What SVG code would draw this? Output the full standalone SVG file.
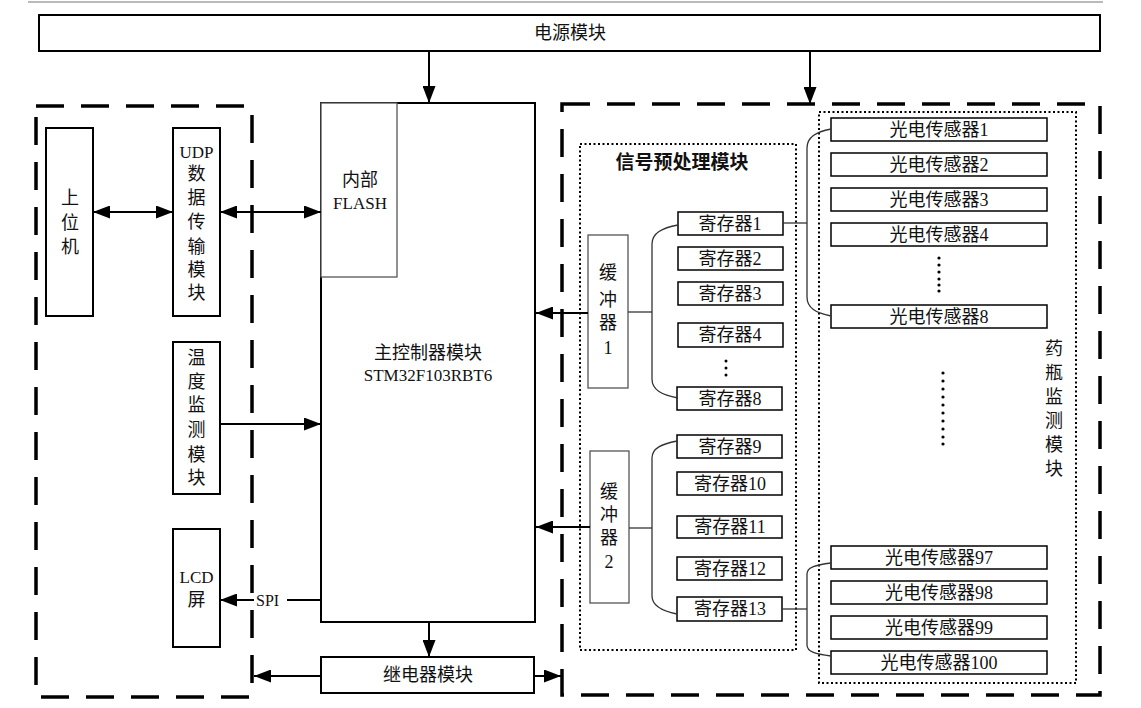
<svg xmlns="http://www.w3.org/2000/svg" width="1141" height="708" viewBox="0 0 1141 708">
<style>
text{font-family:"Liberation Serif","Noto Sans CJK SC",serif;fill:#111;font-size:18px}
.c{text-anchor:middle}
.blk{fill:#fff;stroke:#000;stroke-width:2}
.thin{fill:#fff;stroke:#555;stroke-width:1.3}
.reg{fill:#fff;stroke:#000;stroke-width:1.5}
.dash{fill:none;stroke:#000;stroke-width:3.5;stroke-dasharray:28 17}
.dot{fill:none;stroke:#000;stroke-width:2;stroke-dasharray:2 2.5}
.ln{fill:none;stroke:#000;stroke-width:2}
.br{fill:none;stroke:#333;stroke-width:1.3}
.d{fill:#000}
</style>
<defs>
<marker id="ah" viewBox="0 0 17 13" refX="17" refY="6.5" markerWidth="17" markerHeight="13" markerUnits="userSpaceOnUse" orient="auto-start-reverse">
<path d="M0,0 L17,6.5 L0,13 z" fill="#000"/>
</marker>
</defs>
<line x1="28" y1="2" x2="1103" y2="2" stroke="#777" stroke-width="1"/>

<g id="frames">
<rect class="dash" x="36" y="106" width="216" height="591"/>
<rect class="dash" x="562" y="104" width="538" height="591"/>
<rect class="dot" x="580" y="144" width="216" height="506"/>
<rect class="dot" x="819" y="112" width="257" height="571"/>
</g>

<g id="power"><rect class="blk" x="39" y="15" width="1061" height="36"/><text class="c" x="570" y="39">电源模块</text></g>

<g id="host"><rect class="blk" x="46" y="128" width="47" height="188"/>
<text class="c"><tspan x="70" y="204">上</tspan><tspan x="70" y="229">位</tspan><tspan x="70" y="253">机</tspan></text></g>

<g id="udp"><rect class="blk" x="173" y="128" width="47" height="188"/>
<text class="c" style="font-size:17px"><tspan x="196.5" y="158">UDP</tspan></text>
<text class="c"><tspan x="196.5" y="180">数</tspan><tspan x="196.5" y="204">据</tspan><tspan x="196.5" y="228">传</tspan><tspan x="196.5" y="253">输</tspan><tspan x="196.5" y="276">模</tspan><tspan x="196.5" y="299">块</tspan></text></g>

<g id="temp"><rect class="blk" x="173" y="342" width="47" height="152"/>
<text class="c"><tspan x="196.5" y="364">温</tspan><tspan x="196.5" y="388">度</tspan><tspan x="196.5" y="411">监</tspan><tspan x="196.5" y="436">测</tspan><tspan x="196.5" y="461">模</tspan><tspan x="196.5" y="484">块</tspan></text></g>

<g id="lcd"><rect class="blk" x="173" y="529" width="47" height="118"/>
<text class="c" style="font-size:17px"><tspan x="196.5" y="583">LCD</tspan></text>
<text class="c"><tspan x="196.5" y="606">屏</tspan></text></g>

<g id="mcu"><rect class="blk" x="321" y="103" width="214" height="519"/>
<rect class="thin" x="321" y="103" width="76" height="174"/>
<text class="c"><tspan x="360" y="186">内部</tspan></text>
<text class="c" style="font-size:17px"><tspan x="360" y="209">FLASH</tspan></text>
<text class="c" x="428" y="359">主控制器模块</text>
<text class="c" style="font-size:17px" x="428" y="381">STM32F103RBT6</text></g>

<g id="relay"><rect class="blk" x="321" y="657" width="213" height="36"/><text class="c" x="428" y="681">继电器模块</text></g>

<g id="signal">
<text class="c" x="682" y="169" style="font-size:19px;font-weight:bold">信号预处理模块</text>
<g id="buf1"><rect class="thin" x="588" y="235" width="40" height="153"/>
<text class="c"><tspan x="608" y="279">缓</tspan><tspan x="608" y="306">冲</tspan><tspan x="608" y="329">器</tspan><tspan x="608" y="354">1</tspan></text></g>
<g id="buf2"><rect class="thin" x="590" y="451" width="39" height="152"/>
<text class="c"><tspan x="609" y="498">缓</tspan><tspan x="609" y="521">冲</tspan><tspan x="609" y="544">器</tspan><tspan x="609" y="568">2</tspan></text></g>
<g id="r1"><rect class="reg" x="678" y="212" width="105" height="23"/><text class="c" x="730" y="230">寄存器1</text></g>
<g id="r2"><rect class="reg" x="678" y="247" width="105" height="23"/><text class="c" x="730" y="265">寄存器2</text></g>
<g id="r3"><rect class="reg" x="678" y="282" width="105" height="23"/><text class="c" x="730" y="300">寄存器3</text></g>
<g id="r4"><rect class="reg" x="678" y="323" width="105" height="24"/><text class="c" x="730" y="341">寄存器4</text></g>
<g id="r8"><rect class="reg" x="677" y="387" width="105" height="23"/><text class="c" x="730" y="405">寄存器8</text></g>
<g id="r9"><rect class="reg" x="677" y="435" width="105" height="23"/><text class="c" x="730" y="453">寄存器9</text></g>
<g id="r10"><rect class="reg" x="677" y="472" width="105" height="23"/><text class="c" x="730" y="490">寄存器10</text></g>
<g id="r11"><rect class="reg" x="677" y="516" width="105" height="22"/><text class="c" x="730" y="533">寄存器11</text></g>
<g id="r12"><rect class="reg" x="677" y="557" width="105" height="23"/><text class="c" x="730" y="575">寄存器12</text></g>
<g id="r13"><rect class="reg" x="677" y="597" width="105" height="24"/><text class="c" x="730" y="615">寄存器13</text></g>
<circle class="d" cx="726" cy="361" r="1.5"/><circle class="d" cx="726" cy="368" r="1.5"/><circle class="d" cx="726" cy="375" r="1.5"/>
</g>

<g id="bottles">
<g id="s1"><rect class="reg" x="831" y="118" width="216" height="23"/><text class="c" x="939" y="136">光电传感器1</text></g>
<g id="s2"><rect class="reg" x="831" y="153" width="216" height="23"/><text class="c" x="939" y="171">光电传感器2</text></g>
<g id="s3"><rect class="reg" x="831" y="188" width="216" height="23"/><text class="c" x="939" y="206">光电传感器3</text></g>
<g id="s4"><rect class="reg" x="831" y="223" width="216" height="23"/><text class="c" x="939" y="241">光电传感器4</text></g>
<g id="s8"><rect class="reg" x="831" y="305" width="216" height="23"/><text class="c" x="939" y="323">光电传感器8</text></g>
<g id="s97"><rect class="reg" x="831" y="546" width="216" height="23"/><text class="c" x="939" y="564">光电传感器97</text></g>
<g id="s98"><rect class="reg" x="831" y="581" width="216" height="23"/><text class="c" x="939" y="599">光电传感器98</text></g>
<g id="s99"><rect class="reg" x="831" y="616" width="216" height="23"/><text class="c" x="939" y="634">光电传感器99</text></g>
<g id="s100"><rect class="reg" x="831" y="651" width="216" height="23"/><text class="c" x="939" y="669">光电传感器100</text></g>
<g fill="#000"><circle cx="939" cy="258" r="1.6"/><circle cx="939" cy="265" r="1.6"/><circle cx="939" cy="272" r="1.6"/><circle cx="939" cy="279" r="1.6"/><circle cx="939" cy="285" r="1.6"/><circle cx="939" cy="291" r="1.6"/>
<circle cx="943" cy="373" r="1.6"/><circle cx="943" cy="381" r="1.6"/><circle cx="943" cy="389" r="1.6"/><circle cx="943" cy="397" r="1.6"/><circle cx="943" cy="405" r="1.6"/><circle cx="943" cy="413" r="1.6"/><circle cx="943" cy="421" r="1.6"/><circle cx="943" cy="429" r="1.6"/><circle cx="943" cy="437" r="1.6"/><circle cx="943" cy="444" r="1.6"/></g>
<text class="c"><tspan x="1054" y="355">药</tspan><tspan x="1054" y="379">瓶</tspan><tspan x="1054" y="403">监</tspan><tspan x="1054" y="427">测</tspan><tspan x="1054" y="451">模</tspan><tspan x="1054" y="475">块</tspan></text>
</g>

<g id="connectors">
<line class="ln" x1="429" y1="51" x2="429" y2="103" marker-end="url(#ah)"/>
<line class="ln" x1="810" y1="51" x2="810" y2="104" marker-end="url(#ah)"/>
<line class="ln" x1="93" y1="212" x2="173" y2="212" marker-start="url(#ah)" marker-end="url(#ah)"/>
<line class="ln" x1="220" y1="212" x2="321" y2="212" marker-start="url(#ah)" marker-end="url(#ah)"/>
<line class="ln" x1="220" y1="424" x2="321" y2="424" marker-end="url(#ah)"/>
<line class="ln" x1="321" y1="600" x2="287" y2="600"/>
<text x="256" y="606" style="font-size:16px">SPI</text>
<line class="ln" x1="254" y1="600" x2="220" y2="600" marker-end="url(#ah)"/>
<line class="ln" x1="429" y1="622" x2="429" y2="657" marker-end="url(#ah)"/>
<line class="ln" x1="321" y1="676" x2="254" y2="676" marker-end="url(#ah)"/>
<line class="ln" x1="534" y1="676" x2="561" y2="676" marker-end="url(#ah)"/>
<line class="ln" x1="588" y1="313" x2="536" y2="313" stroke-width="2.5" marker-end="url(#ah)"/>
<line class="ln" x1="590" y1="527" x2="536" y2="527" stroke-width="2.5" marker-end="url(#ah)"/>
<line class="br" x1="628" y1="312" x2="652" y2="312"/>
<line class="br" x1="629" y1="528" x2="652" y2="528"/>
<path class="br" d="M678,225 C662,228 652,233 652,244 L652,379 C652,390 662,395 678,398"/>
<path class="br" d="M677,441 C662,444 652,448 652,458 L652,596 C652,606 662,611 677,614"/>
<line class="br" x1="783" y1="223" x2="807" y2="223"/>
<line class="br" x1="782" y1="609" x2="807" y2="609"/>
<path class="br" d="M831,129 C816,132 807,137 807,148 L807,297 C807,308 816,313 831,316"/>
<path class="br" d="M831,563 C816,565 807,567 807,574 L807,645 C807,652 816,654 831,656"/>
</g>
</svg>
